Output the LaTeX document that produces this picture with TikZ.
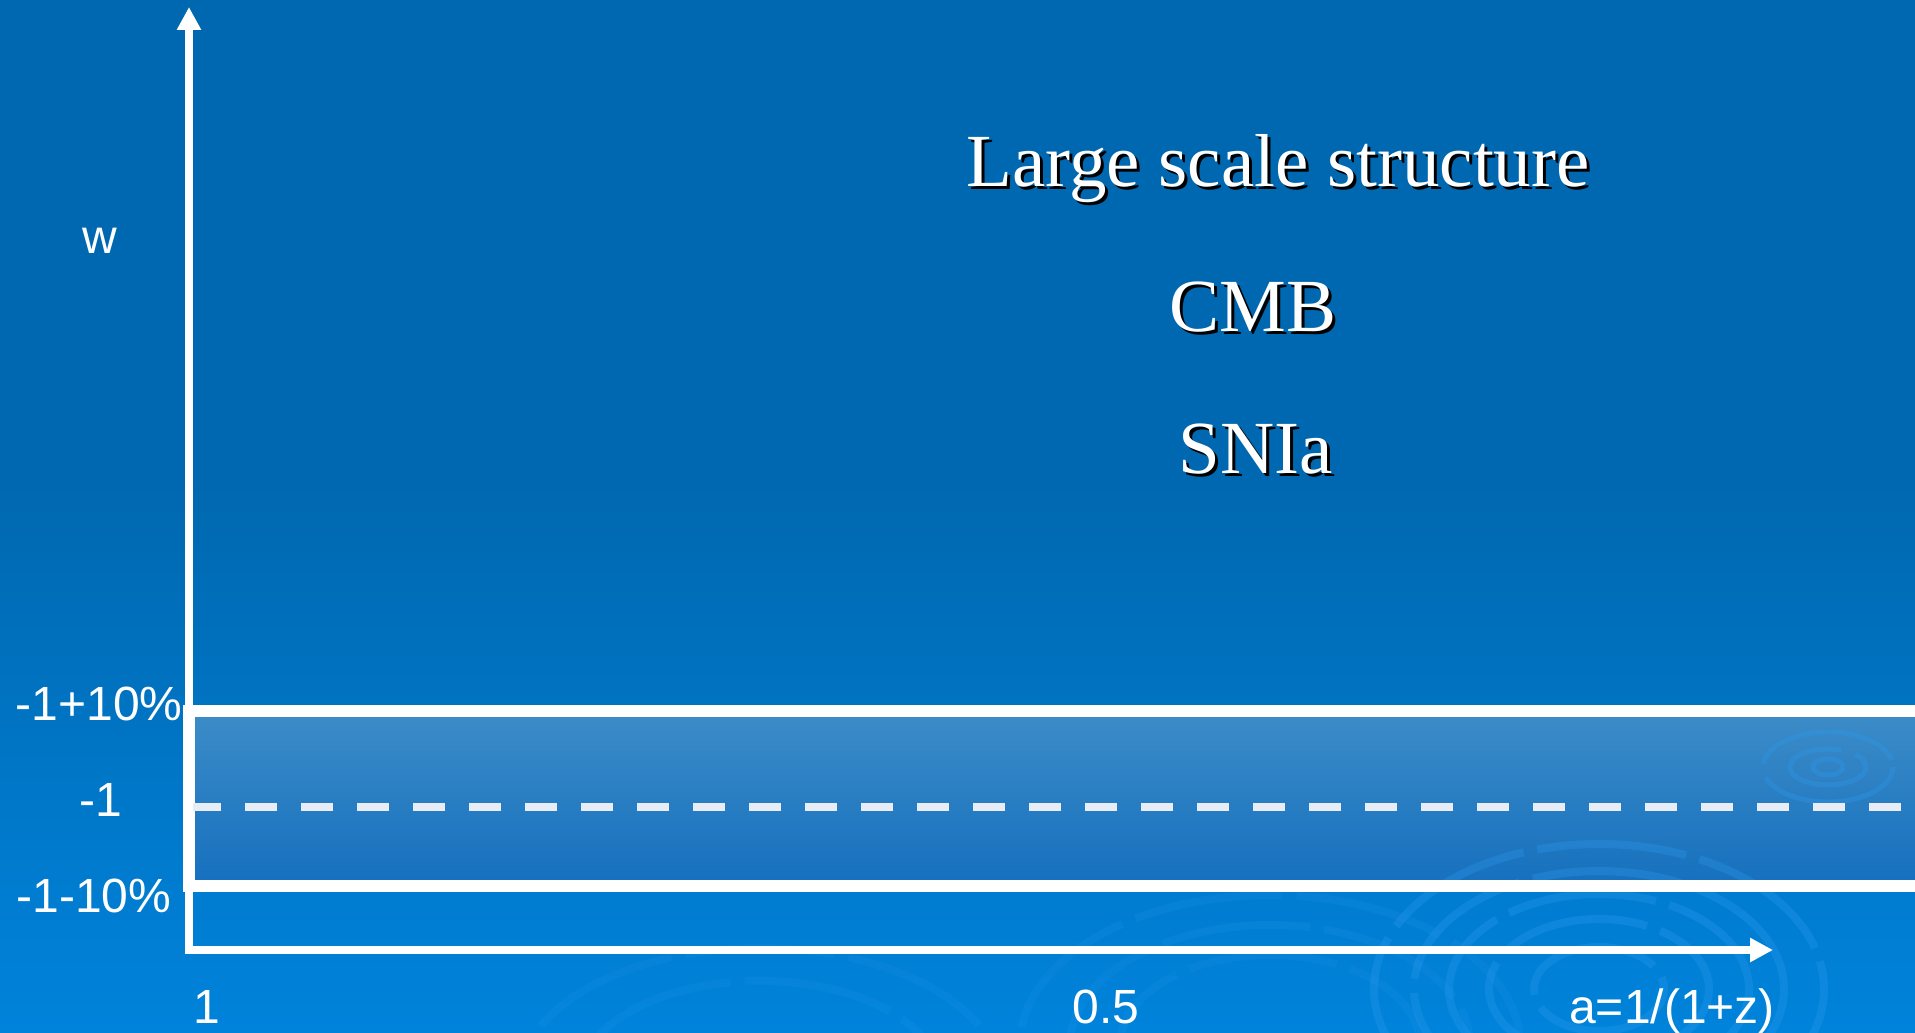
\documentclass[tikz,border=0pt]{standalone}
\usepackage{fontspec}
\setmainfont{Liberation Serif}
\newfontfamily\axisfont{Liberation Sans}
\usetikzlibrary{arrows.meta}
\definecolor{bgtop}{RGB}{0,104,176}
\definecolor{bgbot}{RGB}{0,131,219}
\definecolor{bandtop}{RGB}{60,140,199}
\definecolor{bandbot}{RGB}{22,112,190}
\definecolor{dashgrey}{RGB}{232,236,245}
\definecolor{ripple}{RGB}{45,155,240}

\begin{document}
\begin{tikzpicture}[x=1pt,y=-1pt,
  axisline/.style={draw=white, line width=8pt, {Triangle[width=23pt,length=23pt]}-{Triangle[width=23pt,length=23pt]}},
  ticklabel/.style={text=white, font=\axisfont\fontsize{48}{56}\selectfont, anchor=base, inner sep=0pt},
  title/.style={text=white, font=\fontsize{75}{88}\selectfont, anchor=base, inner sep=0pt},
  titleshadow/.style={title, text=black},
  ring/.style={draw=ripple, line width=8pt, opacity=0.3, dash pattern=on 150pt off 14pt},
  faintring/.style={ring, opacity=0.14}]

\useasboundingbox (0,0) rectangle (1915,1033);
\clip (0,0) rectangle (1915,1033);

% background
\fill[bgtop] (0,0) rectangle (1915,1033);
\shade[top color=bgtop, bottom color=bgbot] (0,480) rectangle (1915,1033);

% tolerance band around w = -1
\shade[top color=bandtop, bottom color=bandbot] (189,711) rectangle (1915,886);

% water ripples
\foreach \rx/\ry in {225/145,185/118,150/95,110/70,65/42}
  \draw[ring] (1599,989) ellipse ({\rx} and {\ry});
\foreach \rx/\ry in {65/35,38/18,15/8}
  \draw[ring, line width=5pt] (1828,767) ellipse ({\rx} and {\ry});
\foreach \r in {150,200,250}
  \draw[faintring] (1270,1045) ellipse ({\r} and {0.6*\r});
\foreach \r in {180,240}
  \draw[faintring] (760,1080) ellipse ({\r} and {0.55*\r});

% band borders and the w = -1 line
\draw[white, line width=12pt] (189,711) rectangle (1935,886);
\draw[dashgrey, line width=8pt, dash pattern=on 32pt off 24pt] (189,807) -- (1915,807);

% axes
\coordinate (ytip) at (189,7);
\coordinate (origin) at (189,950);
\coordinate (xtip) at (1773,950);
\draw[axisline] (ytip) -- (origin) -- (xtip);

% axis labels
\node[ticklabel] (wlab) at (100,253) {w};
\node[ticklabel] (uplab) at (99,720) {-1+10\%};
\node[ticklabel] (midlab) at (101,816) {-1};
\node[ticklabel] (lowlab) at (94,912) {-1-10\%};
\node[ticklabel] (aone) at (207,1023) {1};
\node[ticklabel] (ahalf) at (1106,1023) {0.5};
\node[ticklabel] (alab) at (1672,1023) {a=1/(1+z)};

% probes
\node[titleshadow] (lss-s) at (1281,189) {Large scale structure};
\node[title] (lss) at (1278,186) {Large scale structure};
\node[titleshadow] (cmb-s) at (1256,334) {CMB};
\node[title] (cmb) at (1253,331) {CMB};
\node[titleshadow] (snia-s) at (1259,476) {SNIa};
\node[title] (snia) at (1256,473) {SNIa};
\end{tikzpicture}
\end{document}
